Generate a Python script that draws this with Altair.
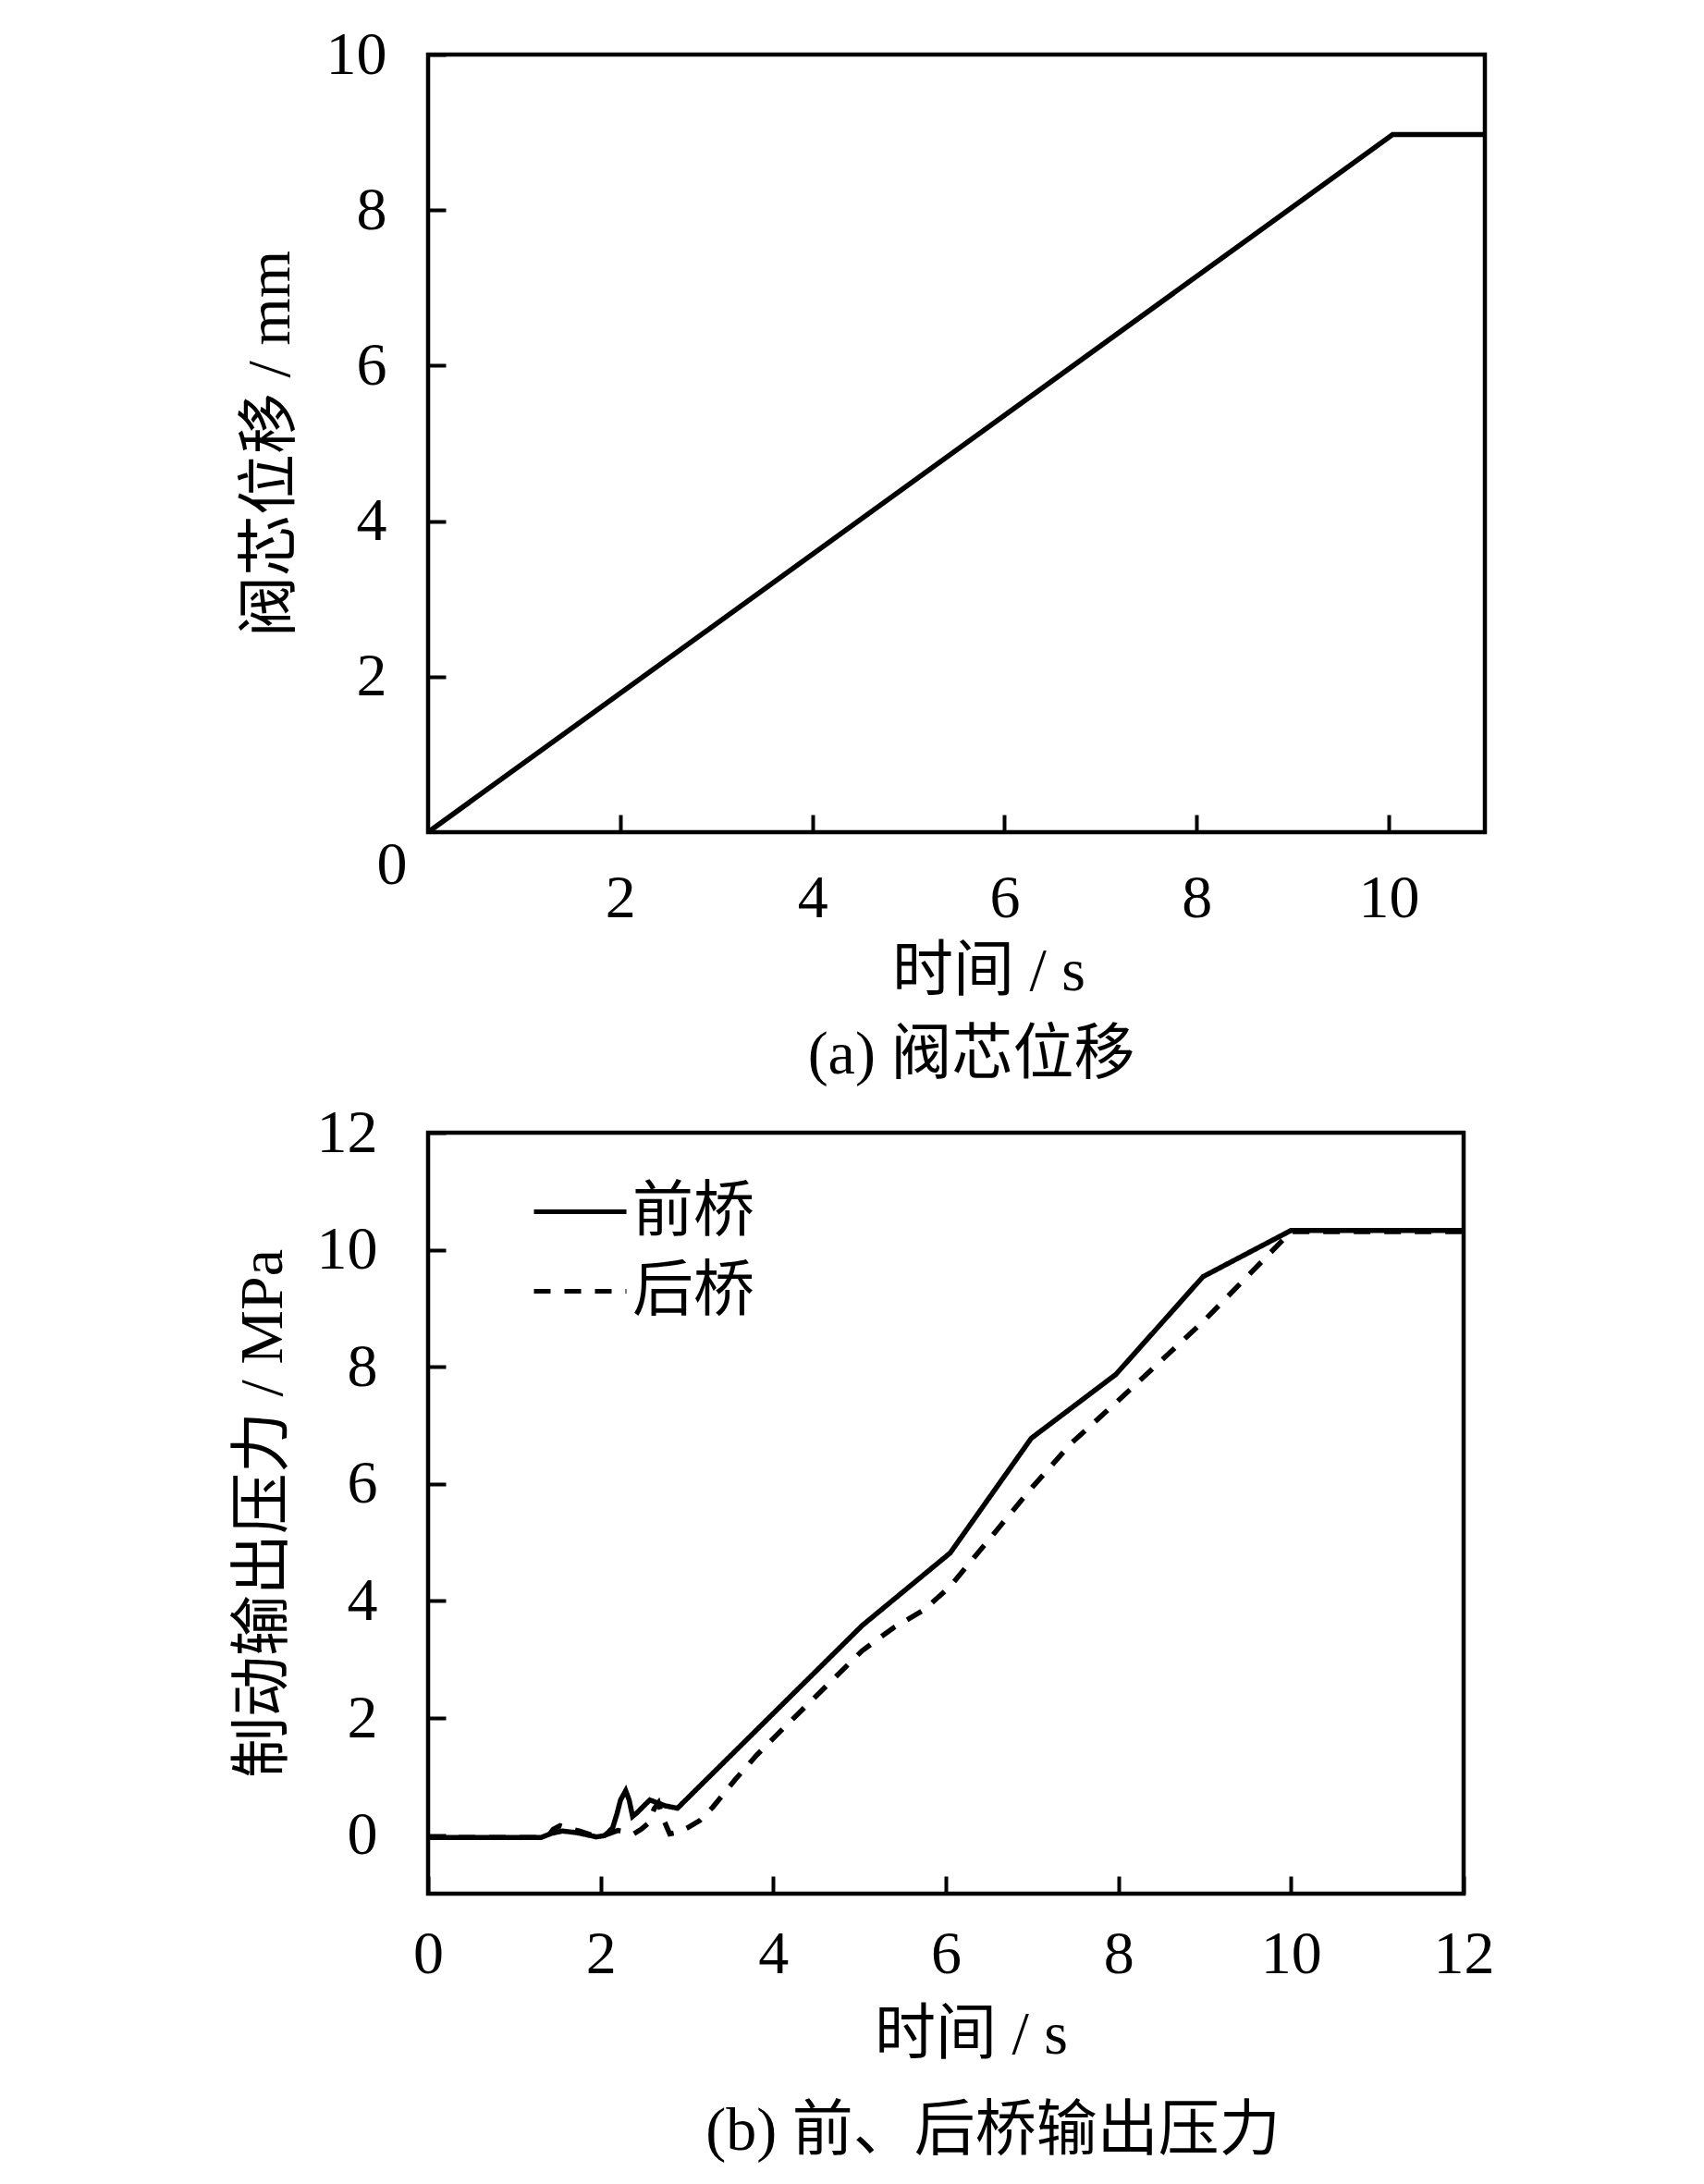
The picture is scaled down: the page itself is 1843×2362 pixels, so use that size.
import altair as alt
import pandas as pd

# ---------------- data ----------------
# (a) spool displacement
spool_t = [0.0, 10.04, 11.0]
spool_mm = [0.0, 8.97, 8.97]

# (b) front / rear axle output pressure
front_t = [0.0, 1.31, 1.43, 1.56, 1.73, 1.95, 2.04, 2.09, 2.14, 2.19, 2.23, 2.29, 2.33,
           2.37, 2.42, 2.5, 2.57, 2.66, 2.75, 2.89, 5.03, 6.05, 6.99, 7.97, 8.98, 10.0, 12.0]
front_p = [-0.04, -0.04, 0.03, 0.07, 0.04, -0.03, -0.01, 0.05, 0.13, 0.37, 0.6, 0.76, 0.6,
           0.32, 0.38, 0.5, 0.6, 0.55, 0.5, 0.46, 3.58, 4.82, 6.78, 7.87, 9.54, 10.33, 10.33]

rear_t = [0.0, 1.38, 1.45, 1.53, 1.62, 1.75, 1.9, 2.05, 2.2, 2.3, 2.38, 2.47, 2.55, 2.62,
          2.67, 2.72, 2.8, 2.9, 3.0, 3.15, 3.3, 3.56, 3.81, 4.08, 5.03, 5.4, 5.75, 6.05,
          6.45, 7.0, 7.45, 7.98, 8.98, 10.0, 12.0]
rear_p = [-0.04, -0.04, 0.1, 0.16, 0.12, 0.07, 0.0, 0.0, 0.08, 0.05, 0.02, 0.1, 0.2, 0.45,
          0.55, 0.3, 0.02, 0.05, 0.12, 0.25, 0.48, 0.95, 1.37, 1.77, 3.15, 3.55, 3.85, 4.25,
          4.96, 5.94, 6.69, 7.4, 8.77, 10.31, 10.31]

series_names = ["前桥", "后桥"]
ticks_a = [2, 4, 6, 8, 10]
ticks_b = [0, 2, 4, 6, 8, 10, 12]

FONT = "Liberation Serif, Noto Sans CJK SC"
LW = 5.5
TFS = 66

# ---------------- chart (a) ----------------
df_a = pd.DataFrame({"t": spool_t, "s": spool_mm})

xa = alt.X("t:Q",
           scale=alt.Scale(domain=[0, 11], nice=False, zero=False),
           axis=alt.Axis(values=ticks_a, format="d", title="时间 / s", offset=-19,
                         labelPadding=39, titlePadding=14, titleX=606))
ya = alt.Y("s:Q",
           scale=alt.Scale(domain=[0, 10], nice=False),
           axis=alt.Axis(values=ticks_a, format="d", title="阀芯位移 / mm", offset=-19,
                         labelPadding=45, titlePadding=26))

line_a = alt.Chart(df_a).mark_line(color="black", strokeWidth=LW).encode(x=xa, y=ya)

zero_a = alt.Chart(pd.DataFrame({"t": [0.0], "s": [0.0], "lbl": ["0"]})).mark_text(
    font=FONT, fontSize=66, color="black", dx=-39, dy=36, baseline="middle", align="center"
).encode(x="t:Q", y="s:Q", text="lbl:N")

chart_a = alt.layer(line_a, zero_a).properties(
    width=1143, height=841,
    title=alt.TitleParams(text="(a) 阀芯位移", orient="bottom", font=FONT, fontSize=TFS,
                          fontWeight="normal", color="black", frame="group", dx=16, offset=26)
)

# ---------------- chart (b) ----------------
df_b = pd.concat([
    pd.DataFrame({"t": front_t, "p": front_p, "axle": series_names[0]}),
    pd.DataFrame({"t": rear_t, "p": rear_p, "axle": series_names[1]}),
])

line_b = alt.Chart(df_b).mark_line(color="black", strokeWidth=LW).encode(
    x=alt.X("t:Q",
            scale=alt.Scale(domain=[0, 12], nice=False),
            axis=alt.Axis(values=ticks_b, format="d", title="时间 / s", offset=-19,
                          labelPadding=33, titlePadding=22, titleX=587)),
    y=alt.Y("p:Q",
            scale=alt.Scale(domain=[-1, 12], nice=False),
            axis=alt.Axis(values=ticks_b, format="d", title="制动输出压力 / MPa", offset=-19,
                          labelPadding=55, titlePadding=24)),
    strokeDash=alt.StrokeDash(
        "axle:N",
        scale=alt.Scale(domain=series_names, range=[[1, 0], [18, 15]]),
        legend=alt.Legend(title=None, orient="none", legendX=112, legendY=33,
                          symbolType="stroke", symbolSize=10000, symbolStrokeWidth=5,
                          symbolStrokeColor="black", labelFontSize=66, labelFont=FONT,
                          labelColor="black", labelOffset=4, rowPadding=-24, padding=0),
    ),
)

chart_b = line_b.properties(
    width=1120, height=823,
    title=alt.TitleParams(text="(b) 前、后桥输出压力", orient="bottom", font=FONT, fontSize=TFS,
                          fontWeight="normal", color="black", frame="group", dx=51, offset=40)
)

chart = alt.vconcat(chart_a, chart_b, spacing=12).resolve_legend(
    strokeDash="independent"
).resolve_scale(
    strokeDash="independent"
).properties(
    padding={"left": 240, "top": 15, "right": 20, "bottom": 10},
    background="white",
).configure_view(
    stroke="black", strokeWidth=4.5
).configure_axis(
    domain=False, grid=False, zindex=1, labelFlush=False, labelOverlap=False,
    tickColor="black", tickWidth=4, tickSize=19,
    labelFont=FONT, labelFontSize=66, labelColor="black",
    titleFont=FONT, titleFontSize=TFS, titleFontWeight="normal", titleColor="black",
)

chart.save("out.html", embed_options={"renderer": "svg", "actions": False})
